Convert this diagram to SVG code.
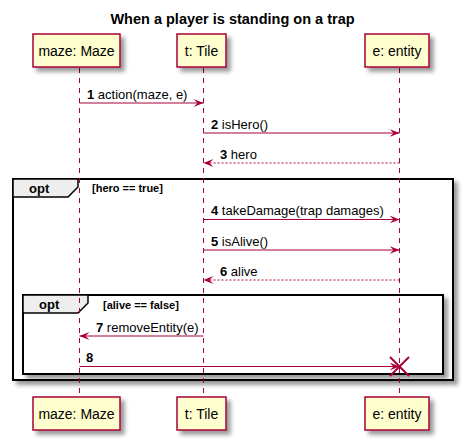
<svg xmlns="http://www.w3.org/2000/svg" width="463" height="439" viewBox="0 0 463 439">
<defs>
<filter id="sh" x="-10%" y="-10%" width="130%" height="140%">
<feGaussianBlur in="SourceAlpha" stdDeviation="2"/>
<feOffset dx="4" dy="4" result="b"/>
<feComponentTransfer><feFuncA type="linear" slope="0.4"/></feComponentTransfer>
<feMerge><feMergeNode/><feMergeNode in="SourceGraphic"/></feMerge>
</filter>
<marker id="ah" viewBox="0 0 10 8" refX="10" refY="4" markerWidth="10" markerHeight="8" markerUnits="userSpaceOnUse" orient="auto">
<polygon points="0,0 10,4 0,8 4,4" fill="#A80036"/>
</marker>
</defs>
<style>
.p rect{fill:#FEFECE;stroke:#A80036;stroke-width:1.5}
.p text{font-family:"Liberation Sans",Arial,sans-serif;font-size:14px;text-anchor:middle;fill:#000}
.ll{stroke:#A80036;stroke-width:1;stroke-dasharray:5,5}
.m{stroke:#A80036;stroke-width:1;fill:none;marker-end:url(#ah)}
.r{stroke-dasharray:2,2}
.t{font-family:"Liberation Sans",Arial,sans-serif;font-size:13px;fill:#000}
.n{font-weight:bold}
.fr{fill:#FFFFFF;stroke:#000;stroke-width:2}
.tab{fill:#EEEEEE;stroke:#000;stroke-width:1.5}
.ft{font-family:"Liberation Sans",Arial,sans-serif;font-size:13px;font-weight:bold;fill:#000}
.g{font-family:"Liberation Sans",Arial,sans-serif;font-size:11px;font-weight:bold;fill:#000}
</style>
<text x="232.5" y="24" font-family="'Liberation Sans',Arial,sans-serif" font-size="14.5" font-weight="bold" text-anchor="middle">When a player is standing on a trap</text>
<g id="frame-outer">
<rect class="fr" x="13" y="179" width="440" height="201" filter="url(#sh)"/>
<polygon class="tab" points="13,179 78,179 78,187 68,197 13,197"/>
<text class="ft" x="29" y="193">opt</text>
<text class="g" x="92" y="192">[hero == true]</text>
</g>
<g id="frame-inner">
<rect class="fr" x="23" y="295" width="420" height="79" filter="url(#sh)"/>
<polygon class="tab" points="23,295 88,295 88,303 78,313 23,313"/>
<text class="ft" x="39" y="309">opt</text>
<text class="g" x="103" y="309">[alive == false]</text>
</g>
<g id="lifelines">
<line class="ll" x1="79.5" y1="68" x2="79.5" y2="397"/>
<line class="ll" x1="203.5" y1="68" x2="203.5" y2="397"/>
<line class="ll" x1="399.5" y1="68" x2="399.5" y2="397"/>
</g>
<g id="participant-maze-top" class="p"><rect x="33" y="34" width="87" height="33" filter="url(#sh)"/><text x="76.5" y="56">maze: Maze</text></g>
<g id="participant-tile-top" class="p"><rect x="177" y="34" width="49" height="33" filter="url(#sh)"/><text x="201.5" y="56">t: Tile</text></g>
<g id="participant-entity-top" class="p"><rect x="365" y="34" width="64" height="33" filter="url(#sh)"/><text x="397" y="56">e: entity</text></g>
<g id="participant-maze-bottom" class="p"><rect x="33" y="397" width="87" height="33" filter="url(#sh)"/><text x="76.5" y="419">maze: Maze</text></g>
<g id="participant-tile-bottom" class="p"><rect x="177" y="397" width="49" height="33" filter="url(#sh)"/><text x="201.5" y="419">t: Tile</text></g>
<g id="participant-entity-bottom" class="p"><rect x="365" y="397" width="64" height="33" filter="url(#sh)"/><text x="397" y="419">e: entity</text></g>
<g id="connectors">
<line class="m" x1="79.5" y1="103" x2="203.5" y2="103"/>
<text class="t" x="87" y="99"><tspan class="n">1</tspan> action(maze, e)</text>
<line class="m" x1="203.5" y1="133" x2="399.5" y2="133"/>
<text class="t" x="211" y="129"><tspan class="n">2</tspan> isHero()</text>
<line class="m r" x1="399.5" y1="163" x2="203.5" y2="163"/>
<text class="t" x="220" y="159"><tspan class="n">3</tspan> hero</text>
<line class="m" x1="203.5" y1="219.5" x2="399.5" y2="219.5"/>
<text class="t" x="211" y="215"><tspan class="n">4</tspan> takeDamage(trap damages)</text>
<line class="m" x1="203.5" y1="250" x2="399.5" y2="250"/>
<text class="t" x="211" y="246"><tspan class="n">5</tspan> isAlive()</text>
<line class="m r" x1="399.5" y1="280" x2="203.5" y2="280"/>
<text class="t" x="220" y="276"><tspan class="n">6</tspan> alive</text>
<line class="m" x1="203.5" y1="336" x2="79.5" y2="336"/>
<text class="t" x="96" y="332"><tspan class="n">7</tspan> removeEntity(e)</text>
<line class="m" x1="79.5" y1="366.5" x2="399.5" y2="366.5"/>
<text class="t" x="86" y="362"><tspan class="n">8</tspan></text>
<g stroke="#A80036" stroke-width="2"><line x1="390" y1="357" x2="409" y2="376"/><line x1="409" y1="357" x2="390" y2="376"/></g>
</g>
</svg>
